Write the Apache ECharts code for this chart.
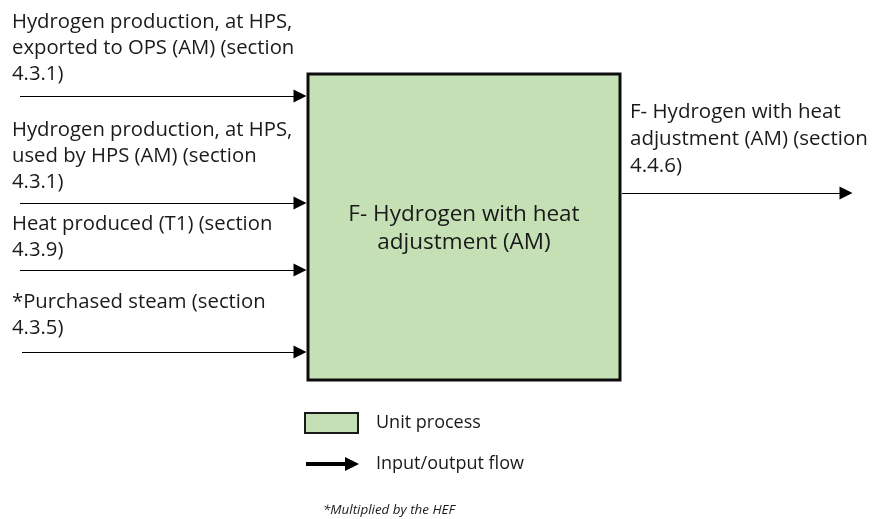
<!DOCTYPE html>
<html><head><meta charset="utf-8">
<script src="https://cdn.jsdelivr.net/npm/echarts@6/dist/echarts.min.js"></script>
<style>html,body{margin:0;padding:0;background:#fff}#c{width:875px;height:519px}</style>
</head><body><div id="c"></div>
<script>
// Diagram content
const inputLabels = [
  ["Hydrogen production, at HPS,", "exported to OPS (AM) (section", "4.3.1)"],
  ["Hydrogen production, at HPS,", "used by HPS (AM) (section", "4.3.1)"],
  ["Heat produced (T1) (section", "4.3.9)"],
  ["*Purchased steam (section", "4.3.5)"]
];
const inputArrowY = [96, 203, 270, 352];
const inputTextTop = [22, 130, 224, 302];
const outputLabel = ["F- Hydrogen with heat", "adjustment (AM) (section", "4.4.6)"];
const processLabel = ["F- Hydrogen with heat", "adjustment (AM)"];
const legendItems = ["Unit process", "Input/output flow"];
const footnote = "*Multiplied by the HEF";

const FONT = "'Open Sans', sans-serif";
const LH = 26;
const box = {x0: 308, y0: 74, x1: 620, y1: 380};

const chart = echarts.init(document.getElementById('c'), null, {renderer: 'canvas'});

// text items [x, y, text, align, size, italic]
const texts = [];
inputLabels.forEach((lines, i) => lines.forEach((t, j) => texts.push([12, inputTextTop[i] + j * LH, t, 'left', 20.3, 0])));
outputLabel.forEach((t, j) => texts.push([630, 112 + j * 27, t, 'left', 20.5, 0]));
processLabel.forEach((t, j) => texts.push([464, 215 + j * 28, t, 'center', 22.5, 0]));
texts.push([376, 423, legendItems[0], 'left', 18, 0]);
texts.push([376, 464, legendItems[1], 'left', 18, 0]);
texts.push([323, 510, footnote, 'left', 13.4, 1]);

const arrows = inputArrowY.map((y, i) => ({coords: [[i === 3 ? 22 : 20, y], [300, y]]}));
arrows.push({coords: [[622, 193], [846, 193]]});

const option = {
  animation: false,
  grid: {left: 0, right: 0, top: 0, bottom: 0},
  xAxis: {type: 'value', min: 0, max: 875, show: false},
  yAxis: {type: 'value', min: 0, max: 519, inverse: true, show: false},
  series: [
    {
      type: 'custom',
      coordinateSystem: 'cartesian2d',
      data: [[box.x0, box.y0, box.x1, box.y1, 0], [305, 413, 358, 433, 1]],
      renderItem: function (params, api) {
        const p0 = api.coord([api.value(0), api.value(1)]);
        const p1 = api.coord([api.value(2), api.value(3)]);
        const legend = api.value(4) === 1;
        return {
          type: 'rect',
          shape: {x: p0[0], y: p0[1], width: p1[0] - p0[0], height: p1[1] - p0[1]},
          style: {fill: '#C5E0B4', stroke: legend ? '#1a1a1a' : '#0d0d0d', lineWidth: legend ? 2 : 3}
        };
      },
      silent: true,
      z: 1
    },
    {
      type: 'lines',
      coordinateSystem: 'cartesian2d',
      data: arrows,
      symbol: ['none', 'triangle'],
      symbolSize: [12, 13],
      lineStyle: {color: '#000', width: 1.2, opacity: 1},
      itemStyle: {color: '#000'},
      silent: true,
      z: 2
    },
    {
      type: 'lines',
      coordinateSystem: 'cartesian2d',
      data: [{coords: [[306, 464], [352, 464]]}],
      symbol: ['none', 'triangle'],
      symbolSize: [14, 14],
      lineStyle: {color: '#000', width: 4, opacity: 1},
      silent: true,
      z: 2
    },
    {
      type: 'custom',
      coordinateSystem: 'cartesian2d',
      data: texts,
      renderItem: function (params, api) {
        const d = texts[params.dataIndex];
        const p = api.coord([d[0], d[1]]);
        return {
          type: 'text',
          x: p[0], y: p[1],
          style: {
            text: d[2], fill: '#1a1a1a',
            font: (d[5] ? 'italic ' : '') + d[4] + 'px ' + FONT,
            textAlign: d[3], textVerticalAlign: 'middle'
          }
        };
      },
      silent: true,
      z: 3
    }
  ]
};
chart.setOption(option);
</script></body></html>
